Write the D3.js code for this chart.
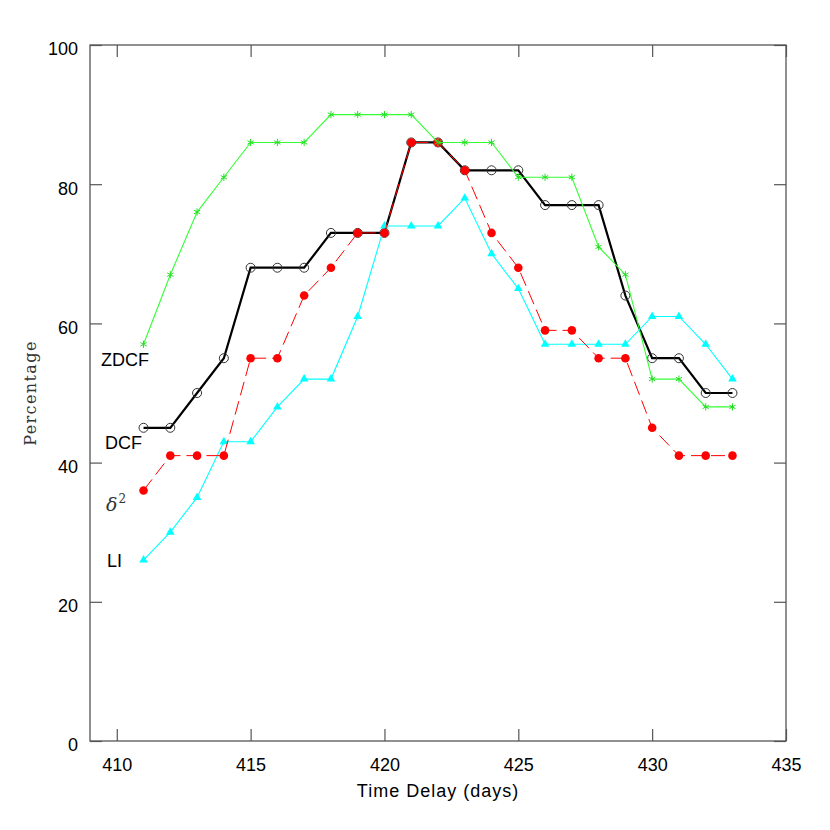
<!DOCTYPE html>
<html>
<head>
<meta charset="utf-8">
<script src="https://cdn.jsdelivr.net/npm/d3@7"></script>
<style>
    body { margin: 0; background: #fff; }
    svg { display: block; }
</style>
</head>
<body>
<svg id="vis_svg"></svg>
<script>
// Data
const delays = [411, 412, 413, 414, 415, 416, 417, 418, 419, 420, 421, 422,
                423, 424, 425, 426, 427, 428, 429, 430, 431, 432, 433];
const zdcf   = [57, 67, 76, 81, 86, 86, 86, 90, 90, 90, 90, 86,
                86, 86, 81, 81, 81, 71, 67, 52, 52, 48, 48];
const dcf    = [45, 45, 50, 55, 68, 68, 68, 73, 73, 73, 86, 86,
                82, 82, 82, 77, 77, 77, 64, 55, 55, 50, 50];
const delta2 = [36, 41, 41, 41, 55, 55, 64, 68, 73, 73, 86, 86,
                82, 73, 68, 59, 59, 55, 55, 45, 41, 41, 41];
const li     = [26, 30, 35, 43, 43, 48, 52, 52, 61, 74, 74, 74,
                78, 70, 65, 57, 57, 57, 57, 61, 61, 57, 52];

const xMajorTicks = [410, 415, 420, 425, 430, 435];
const yMajorTicks = [0, 20, 40, 60, 80, 100];

// Global Variables
let scales = {};
let config = {
    'svg': { 'margin': {} },
    'frame': {}
};
let svg;

function visSetup() {
    config.svg.width = 830;
    config.svg.height = 830;

    config.frame.left = 90;
    config.frame.right = 786;
    config.frame.top = 45;
    config.frame.bottom = 741;

    config.axisColor = '#555';
    config.font = '"Liberation Sans", Arial, sans-serif';

    svg = d3.select('#vis_svg')
        .attr('width', config.svg.width)
        .attr('height', config.svg.height);

    scales.x = d3.scaleLinear()
        .domain([409, 435])
        .range([config.frame.left, config.frame.right]);
    scales.y = d3.scaleLinear()
        .domain([0, 100])
        .range([config.frame.bottom, config.frame.top]);
}

function drawAxes() {
    let f = config.frame;
    let xMinor = d3.range(409, 436, 1);
    let yMinor = d3.range(0, 101, 5);

    // bottom, with labels
    let bottom = svg.append('g').attr('transform', translate(0, f.bottom));
    bottom.call(d3.axisBottom(scales.x).tickValues(xMinor).tickSize(-6).tickFormat(''));
    bottom.call(d3.axisBottom(scales.x).tickValues(xMajorTicks).tickSize(-12).tickPadding(17));

    // top, ticks only
    let top = svg.append('g').attr('transform', translate(0, f.top));
    top.call(d3.axisTop(scales.x).tickValues(xMinor).tickSize(-6).tickFormat(''));
    top.call(d3.axisTop(scales.x).tickValues(xMajorTicks).tickSize(-12).tickFormat(''));

    // left, with labels
    let left = svg.append('g').attr('transform', translate(f.left, 0));
    left.call(d3.axisLeft(scales.y).tickValues(yMinor).tickSize(-6).tickFormat(''));
    left.call(d3.axisLeft(scales.y).tickValues(yMajorTicks).tickSize(-12).tickPadding(12));

    // right, ticks only
    let right = svg.append('g').attr('transform', translate(f.right, 0));
    right.call(d3.axisRight(scales.y).tickValues(yMinor).tickSize(-6).tickFormat(''));
    right.call(d3.axisRight(scales.y).tickValues(yMajorTicks).tickSize(-12).tickFormat(''));

    svg.selectAll('.domain').remove();
    svg.selectAll('.tick line').attr('stroke', config.axisColor).attr('stroke-width', 1.2);
    svg.selectAll('.tick text')
        .attr('fill', '#000')
        .style('font-family', config.font)
        .style('font-size', '18px');
    left.selectAll('.tick text').attr('dy', '0.55em');

    svg.append('rect')
        .attr('x', f.left)
        .attr('y', f.top)
        .attr('width', f.right - f.left)
        .attr('height', f.bottom - f.top)
        .attr('fill', 'none')
        .attr('stroke', config.axisColor)
        .attr('stroke-width', 1.3);

    // axis titles
    svg.append('text')
        .attr('x', (f.left + f.right) / 2)
        .attr('y', 797)
        .attr('text-anchor', 'middle')
        .style('font-family', config.font)
        .style('font-size', '18px')
        .style('letter-spacing', '1px')
        .text('Time Delay (days)');

    svg.append('text')
        .attr('transform', translate(36, 393) + ' rotate(-90)')
        .attr('text-anchor', 'middle')
        .attr('fill', '#333')
        .style('font-family', '"DejaVu Serif", serif')
        .style('font-size', '16px')
        .style('letter-spacing', '1.4px')
        .text('Percentage');
}

function visDraw() {
    let line = d3.line()
        .x(d => scales.x(d[0]))
        .y(d => scales.y(d[1]));
    let pts = vals => delays.map((d, i) => [d, vals[i]]);

    // DCF: thick black with open circles
    let g = svg.append('g');
    g.append('path').datum(pts(dcf))
        .attr('d', line).attr('fill', 'none')
        .attr('stroke', '#000').attr('stroke-width', 2.2);
    g.selectAll('circle').data(pts(dcf)).join('circle')
        .attr('cx', d => scales.x(d[0])).attr('cy', d => scales.y(d[1]))
        .attr('r', 4.5).attr('fill', 'none')
        .attr('stroke', '#333').attr('stroke-width', 1);

    // LI: cyan with filled triangles
    g = svg.append('g');
    g.append('path').datum(pts(li))
        .attr('d', line).attr('fill', 'none')
        .attr('stroke', '#00ffff').attr('stroke-width', 1.1);
    g.selectAll('path.sym').data(pts(li)).join('path')
        .attr('class', 'sym')
        .attr('transform', d => translate(scales.x(d[0]), scales.y(d[1])))
        .attr('d', d3.symbol(d3.symbolTriangle, 32))
        .attr('fill', '#00ffff');

    // delta^2: dashed red with filled dots
    g = svg.append('g');
    g.append('path').datum(pts(delta2))
        .attr('d', line).attr('fill', 'none')
        .attr('stroke', '#ff0000').attr('stroke-width', 1)
        .attr('stroke-dasharray', '14,6');
    g.selectAll('circle').data(pts(delta2)).join('circle')
        .attr('cx', d => scales.x(d[0])).attr('cy', d => scales.y(d[1]))
        .attr('r', 4.3).attr('fill', '#ff0000');

    // ZDCF: green with asterisks
    g = svg.append('g');
    g.append('path').datum(pts(zdcf))
        .attr('d', line).attr('fill', 'none')
        .attr('stroke', '#33ff33').attr('stroke-width', 1.1);
    g.selectAll('path.sym').data(pts(zdcf)).join('path')
        .attr('class', 'sym')
        .attr('transform', d => translate(scales.x(d[0]), scales.y(d[1])))
        .attr('d', d3.symbol(d3.symbolAsterisk, 36))
        .attr('fill', 'none')
        .attr('stroke', '#22dd22').attr('stroke-width', 1);

    // curve labels
    let labels = svg.append('g')
        .style('font-family', config.font)
        .style('font-size', '18px');
    labels.append('text').attr('x', 101).attr('y', 366).text('ZDCF');
    labels.append('text').attr('x', 105).attr('y', 449).text('DCF');
    labels.append('text').attr('x', 107).attr('y', 567).text('LI');

    let d2 = svg.append('text')
        .attr('x', 106).attr('y', 511)
        .attr('fill', '#333')
        .style('font-family', '"DejaVu Serif", serif')
        .style('font-size', '19px');
    d2.append('tspan').style('font-style', 'italic').text('δ');
    d2.append('tspan').attr('dy', -8).attr('dx', 1).style('font-size', '12px').text('2');
}

// Helper functions
function translate(x, y) {
    return 'translate(' + x + ',' + y + ')';
}

visSetup();
drawAxes();
visDraw();
</script>
</body>
</html>
